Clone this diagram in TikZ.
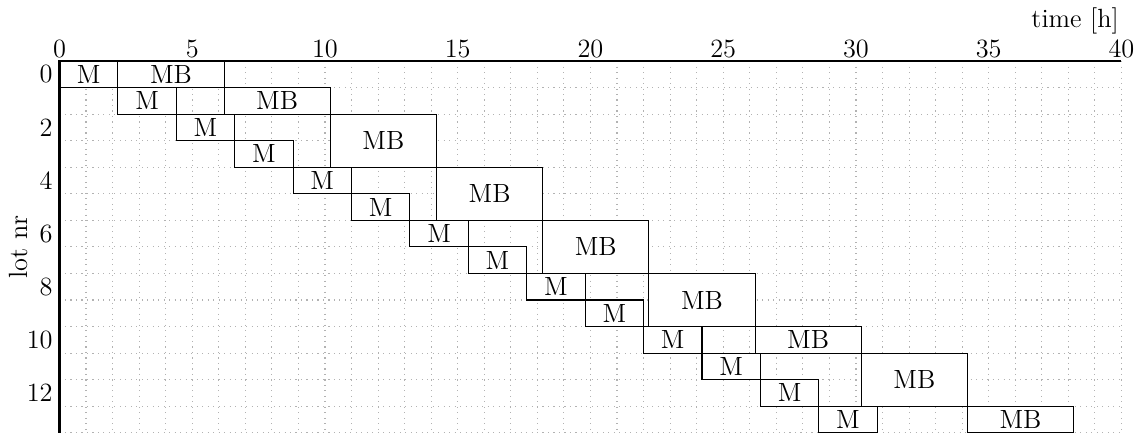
\documentclass[tikz,border=0pt]{standalone}
\begin{document}
\begin{tikzpicture}[x=0.425cm,y=0.425cm,font=\large,
  box/.style={draw,fill=white,line width=0.5pt},
  lbl/.style={inner sep=0pt},
  axis/.style={line width=1.1pt},
  gridline/.style={gray!60,dotted,line width=0.5pt}]
\useasboundingbox (-2.24,2.30) rectangle (40.85,-14.19);
\foreach \gx in {1,...,40} \draw[gridline] (\gx,0) -- (\gx,-14);
\foreach \gy in {1,...,14} \draw[gridline] (0,-\gy) -- (40,-\gy);
% M boxes
\foreach \i in {0,...,13}{
  \pgfmathsetmacro{\xa}{2.2*\i}
  \pgfmathsetmacro{\xb}{2.2*(\i+1)}
  \draw[box] (\xa,-\i) rectangle (\xb,-\i-1) node[midway] (m\i) {M};
}
% MB boxes: start, first row, last row
\foreach \s/\a/\b [count=\k] in {2.2/0/0,6.2/1/1,10.2/2/3,14.2/4/5,18.2/6/7,22.2/8/9,26.2/10/10,30.2/11/12,34.2/13/13}{
  \pgfmathsetmacro{\e}{\s+4}
  \draw[box] (\s,-\a) rectangle (\e,-\b-1) node[midway] (mb\k) {MB};
}
% axes
\coordinate (o) at (0,0);
\coordinate (xe) at (40,0);
\coordinate (ye) at (0,-14);
\draw[axis] (ye) -- (o) -- (xe);
\foreach \t in {0,5,...,40}
  \node[lbl,anchor=base] (xt\t) at (\t,0.12) {\t};
\foreach \r in {0,2,...,12}
  \node[lbl,anchor=east] (yt\r) at (-0.24,-\r-0.5) {\r};
\node[lbl,anchor=base east] (xlab) at (39.92,1.28) {time [h]};
\node[lbl,anchor=base,rotate=90] (ylab) at (-1.22,-7) {lot nr};
\end{tikzpicture}
\end{document}
